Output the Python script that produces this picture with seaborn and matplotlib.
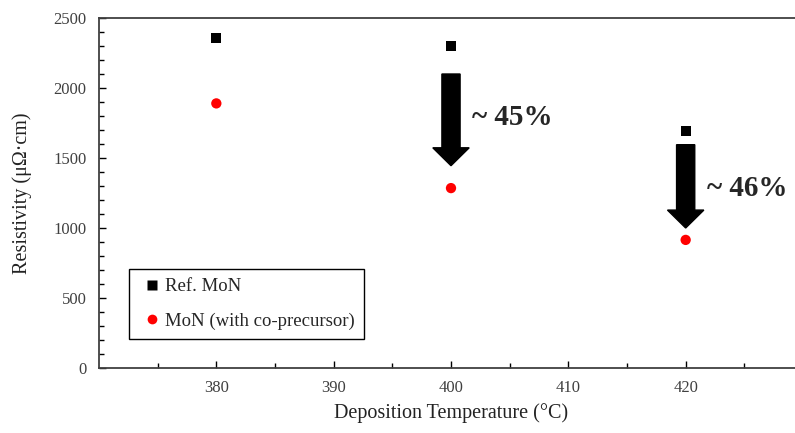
import matplotlib
matplotlib.use("Agg")
import matplotlib.pyplot as plt
import seaborn as sns
import pandas as pd

temps = [380, 400, 420]
ref_mon = [2355, 2300, 1695]
mon_coprec = [1890, 1285, 915]
series_names = ["Ref. MoN", "MoN (with co-precursor)"]
reduction_labels = ["~ 45%", "~ 46%"]
arrow_x = [400, 420]
arrow_top = [2100, 1595]
arrow_tip = [1445, 1000]

sns.set_style("ticks")
plt.rcParams["font.family"] = ["Liberation Serif", "DejaVu Serif"]
plt.rcParams["mathtext.fontset"] = "stix"

df = pd.DataFrame({
    "T": temps * 2,
    "R": ref_mon + mon_coprec,
    "series": [series_names[0]] * 3 + [series_names[1]] * 3,
})

fig = plt.figure(figsize=(7.95, 4.33), dpi=100)
ax = fig.add_axes([99 / 795, 65 / 433, 704 / 795, 350 / 433])

sns.scatterplot(data=df, x="T", y="R", hue="series", style="series",
                palette={series_names[0]: "black", series_names[1]: "#ff0000"},
                markers={series_names[0]: "s", series_names[1]: "o"},
                s=55, edgecolor="none", ax=ax, legend=True)

ax.set_xlim(370, 430)
ax.set_ylim(0, 2500)
ax.set_xticks([380, 390, 400, 410, 420])
ax.set_xticks([375, 385, 395, 405, 415, 425], minor=True)
ax.set_yticks(range(0, 2501, 500))
ax.set_yticks(range(100, 2500, 100), minor=True)
ax.tick_params(axis="both", which="major", direction="in", length=5, width=1, colors="black",
               labelcolor="#404040", labelsize=12, pad=9)
ax.tick_params(axis="both", which="minor", direction="in", length=3.5, width=1, colors="black")
for sp in ["left", "bottom", "top"]:
    ax.spines[sp].set_color("#404040")
    ax.spines[sp].set_linewidth(1.3)
ax.spines["right"].set_visible(False)

ax.set_xlabel("Deposition Temperature (°C)", fontsize=14.5, labelpad=5, color="#222222")
ax.set_ylabel("Resistivity (μΩ·cm)", fontsize=14.5, labelpad=15, color="#222222")

for xa, yt, yb in zip(arrow_x, arrow_top, arrow_tip):
    ax.arrow(xa, yt, 0, yb - yt, width=1.55, head_width=3.1, head_length=128,
             length_includes_head=True, color="black", zorder=3)

ax.text(401.8, 1790, reduction_labels[0], fontsize=21, fontweight="bold", va="center", ha="left")
ax.text(421.8, 1285, reduction_labels[1], fontsize=21, fontweight="bold", va="center", ha="left")

leg = ax.legend(loc="lower left", bbox_to_anchor=(30 / 704, 29 / 350), borderaxespad=0,
                frameon=True, fancybox=False, edgecolor="black", fontsize=13.5,
                labelspacing=0.9, handletextpad=0.0, borderpad=0.5, handlelength=1.4,
                title=None)
leg.get_frame().set_linewidth(1.0)
leg.get_frame().set_alpha(1)
for h in leg.legend_handles:
    h.set_markersize(7)

fig.savefig("out.png", dpi=100)
